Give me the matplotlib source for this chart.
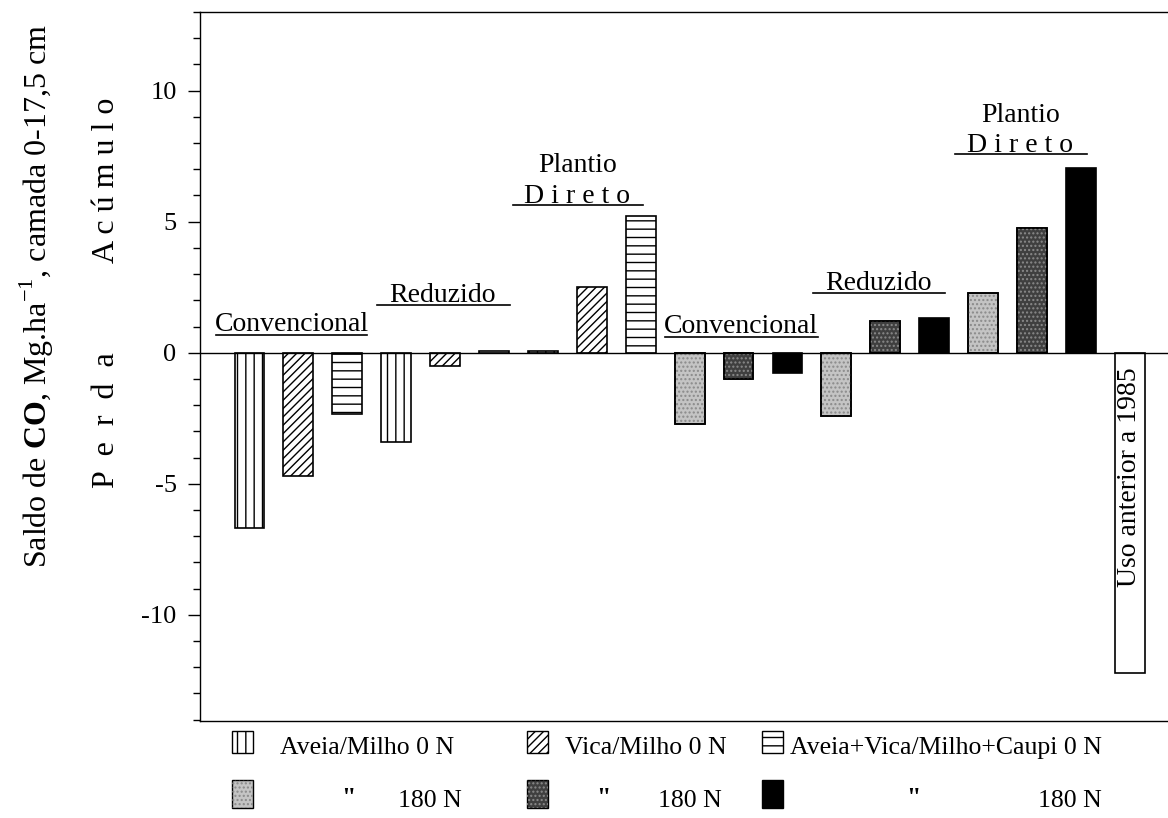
import numpy as np
import matplotlib
matplotlib.use('Agg')
import matplotlib.pyplot as plt
from matplotlib.patches import Rectangle
from matplotlib.ticker import MultipleLocator

plt.rcParams['font.family'] = ['Liberation Serif', 'DejaVu Serif']
plt.rcParams['mathtext.fontset'] = 'custom'
plt.rcParams['mathtext.rm'] = 'Liberation Serif'
plt.rcParams['mathtext.bf'] = 'Liberation Serif:bold'
plt.rcParams['axes.unicode_minus'] = False
plt.rcParams['hatch.linewidth'] = 1.0

# saldo de C (Mg/ha), por sistema de preparo e adubacao
conv_0n = [-6.7, -4.7, -2.35]
red_0n = [-3.4, -0.52, 0.07]
pd_0n = [0.07, 2.5, 5.2]
conv_180n = [-2.72, -1.0, -0.77]
red_180n = [-2.43, 1.21, 1.32]
pd_180n = [2.28, 4.76, 7.06]
uso_anterior = [-12.2]

systems = ['Convencional', 'Reduzido', 'Plantio Direto']
legend_0n = ['Aveia/Milho 0 N', 'Vica/Milho 0 N', 'Aveia+Vica/Milho+Caupi 0 N']
legend_180n = ['180 N', '180 N', '180 N']

values = conv_0n + red_0n + pd_0n + conv_180n + red_180n + pd_180n + uso_anterior
x = np.arange(len(values))

hatch_0n = ['||', '////', '--']
color_180n = ['#c4c4c4', '#3f3f3f', '#000000']
dots_180n = ['#8a8a8a', '#8a8a8a', None]

faces, hatches, dots = [], [], []
for i in range(9):
    faces.append('white')
    hatches.append(hatch_0n[i % 3])
    dots.append(None)
for i in range(9):
    faces.append(color_180n[i % 3])
    hatches.append(None)
    dots.append(dots_180n[i % 3])
faces.append('white')
hatches.append(None)
dots.append(None)

W, H = 1168, 818
fig = plt.figure(figsize=(W / 100, H / 100), dpi=100)
ax = fig.add_axes([199.5 / W, 1 - 721 / H, 1 - 199.5 / W, (721 - 12) / H])

bars = ax.bar(x, values, width=0.61, color=faces, edgecolor='black', linewidth=1.2)
for b, h in zip(bars, hatches):
    if h:
        b.set_hatch(h)
# textura pontilhada das barras com 180 N
for xi, v, d in zip(x, values, dots):
    if d:
        ax.bar(xi, v, width=0.61, color='none', edgecolor=d, linewidth=0, hatch='....')
        ax.bar(xi, v, width=0.61, color='none', edgecolor='black', linewidth=1.2)

ax.axhline(0, color='black', lw=1.0)
ax.set_xlim(-1.022, 18.78)
ax.set_ylim(-14.05, 13.0)
ax.set_xticks([])
ax.yaxis.set_major_locator(MultipleLocator(5))
ax.yaxis.set_minor_locator(MultipleLocator(1))
ax.tick_params(axis='y', which='major', direction='out', length=8.5, width=1, labelsize=19, pad=8)
ax.tick_params(axis='y', which='minor', direction='out', length=5, width=1)
ax.spines['right'].set_visible(False)
for s in ['left', 'top', 'bottom']:
    ax.spines[s].set_linewidth(1.0)

# rotulos dos sistemas de preparo (texto, baseline, linha)
group_labels = [
    ('Convencional', 0.86, 0.84, -0.69, 2.40, 0.69),
    ('Reduzido', 3.94, 1.95, 2.61, 5.33, 1.83),
    ('D i r e t o', 6.70, 5.73, 5.39, 8.04, 5.65),
    ('Convencional', 10.05, 0.76, 8.50, 11.63, 0.61),
    ('Reduzido', 12.85, 2.40, 11.52, 14.22, 2.29),
    ('D i r e t o', 15.76, 7.67, 14.43, 17.13, 7.60),
]
for txt, xc, yb, x0, x1, yl in group_labels:
    ax.text(xc, yb, txt, ha='center', va='baseline', fontsize=20)
    ax.plot([x0, x1], [yl, yl], color='black', lw=1.2)
ax.text(6.70, 6.91, 'Plantio', ha='center', va='baseline', fontsize=20)
ax.text(15.76, 8.82, 'Plantio', ha='center', va='baseline', fontsize=20)

ax.text(x[-1], -4.75, 'Uso anterior a 1985', rotation=90, ha='center', va='center', fontsize=20)

# eixo y
fig.text(37 / W, 1 - 296 / H, r'Saldo de $\mathbf{CO}$, Mg.ha$^{-1}$, camada 0-17,5 cm',
         rotation=90, ha='center', va='center', fontsize=23)
fig.text(106 / W, 1 - 180 / H, 'A c ú m u l o', rotation=90, ha='center', va='center', fontsize=23)
fig.text(106 / W, 1 - 420 / H, 'P  e  r  d  a', rotation=90, ha='center', va='center', fontsize=23)

# legenda
col_px = [232, 527, 762]
text_px = [280, 565, 790]
for i in range(3):
    r = Rectangle((col_px[i] / W, 1 - 753 / H), 21 / W, 22 / H, transform=fig.transFigure,
                  facecolor='white', edgecolor='black', lw=1.0, hatch=hatch_0n[i])
    fig.add_artist(r)
    fig.text(text_px[i] / W, 1 - 748 / H, legend_0n[i], ha='left', va='center', fontsize=18.5)
    r2 = Rectangle((col_px[i] / W, 1 - 808 / H), 21 / W, 28 / H, transform=fig.transFigure,
                   facecolor=color_180n[i], edgecolor='black', lw=1.0)
    fig.add_artist(r2)
    if dots_180n[i]:
        r3 = Rectangle((col_px[i] / W, 1 - 808 / H), 21 / W, 28 / H, transform=fig.transFigure,
                       facecolor='none', edgecolor=dots_180n[i], lw=0, hatch='....')
        fig.add_artist(r3)
quote_px = [348, 603, 913]
n180_px = [398, 658, 1038]
for i in range(3):
    fig.text(quote_px[i] / W, 1 - 799 / H, '"', ha='center', va='center', fontsize=18.5, fontweight='bold')
    fig.text(n180_px[i] / W, 1 - 801 / H, legend_180n[i], ha='left', va='center', fontsize=18.5)

fig.savefig('out.png', dpi=100)
